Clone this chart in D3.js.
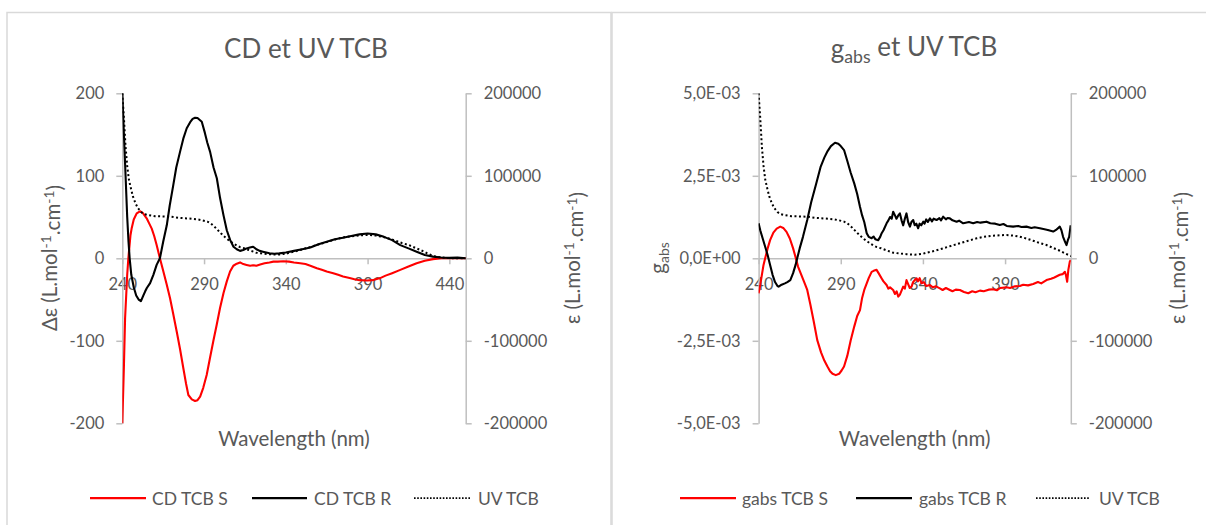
<!DOCTYPE html>
<html><head><meta charset="utf-8">
<script src="https://cdn.jsdelivr.net/npm/d3@7/dist/d3.min.js"></script>
<style>
body{margin:0;background:#fff}
svg{display:block}
text{font-family:Lato,"Open Sans",sans-serif;fill:#595959}
</style>
</head><body>
<svg id="c" width="1206" height="525"></svg>
<script>
// ---------- tick values and labels ----------
const wlTicksCD = [240, 290, 340, 390, 440];
const wlTicksG = [240, 290, 340, 390];
const cdTicks = [-200, -100, 0, 100, 200];
const cdTickLabels = ["-200", "-100", "0", "100", "200"];
const gTicks = [-5e-3, -2.5e-3, 0, 2.5e-3, 5e-3];
const gTickLabels = ["-5,0E-03", "-2,5E-03", "0,0E+00", "2,5E-03", "5,0E-03"];
const epsTicks = [-200000, -100000, 0, 100000, 200000];
const epsTickLabels = ["-200000", "-100000", "0", "100000", "200000"];

// ---------- series: [wavelength nm, value] ----------
const cdTCB_S = [[240,-200],[241,-130],[241.7,-73],[243,-20],[243.7,0],[245,28],[245.7,36],[247,47],[248.8,54.5],[250.8,57],[252.5,55],[254.9,48.5],[256.5,42],[258,36],[259.5,27],[261,16],[263,0],[265,-15],[267.2,-32],[269.2,-48.5],[271,-66],[273.3,-89],[275.3,-110],[277.3,-133],[279,-152],[280.4,-165.7],[282.5,-171],[284.5,-173],[286,-172],[287.6,-167.7],[289.5,-157],[291.6,-141.5],[293.5,-122],[295.7,-100],[297.8,-80],[299.8,-60],[301.9,-42],[303.9,-28],[305.9,-16],[307.9,-9],[310,-6.5],[312,-5],[314,-7],[316,-8],[318.2,-9],[320,-8.5],[322,-9],[324.3,-7.5],[327,-6],[330,-5],[332.4,-4],[335,-4],[338.5,-3.5],[342,-4],[345,-5],[348.8,-6],[352,-7],[355,-9],[359,-12],[362,-14],[365,-16],[369,-18],[372,-20],[375,-22],[379,-24],[382,-25.5],[385,-26.5],[389.6,-27],[393,-26.5],[397.7,-24],[401,-21],[405,-18],[410,-14],[415,-10],[420,-6],[425,-3],[430,-1],[435,0],[440,0],[445,0.3],[450,0]];

const cdTCB_R = [[240,200],[241,150],[242,100],[243,50],[243.8,20],[244.5,0],[245.5,-20],[247,-35],[248.5,-45],[250,-50],[251.4,-52],[252.9,-45],[254,-40],[255,-36],[257,-30],[259,-20],[261,-8],[263,0],[265,20],[267.2,40],[269,64],[271.2,89],[273,110],[275.3,129],[277.3,145],[279.4,157.6],[281.5,165],[283,169],[284.5,170.4],[286,170],[288.6,165.6],[290.5,152],[292,140],[293.7,129],[295.8,110],[297.8,97],[299.8,73],[301.9,52],[303.9,34],[306,22],[308,14],[310,11],[312,9],[314,10],[316,12],[318,13],[320,14],[322,11],[324,9],[326,8],[328,7],[330,6],[333,5.5],[336,6],[340,7],[345,9],[350,11],[355,13],[360,17],[365,20],[370,23],[375,25],[380,27],[385,29],[390,30],[395,29],[400,26],[405,22],[410,16],[415,12],[420,8],[425,4],[430,2],[435,1],[440,0.5],[445,0.8],[450,0]];

const uvTCB = [[240,200000],[241,170000],[242,135000],[243,112000],[244,96000],[245,86800],[246.5,75000],[248,67000],[249.5,61000],[251.5,56000],[253.5,53500],[255.3,52500],[260,51000],[265,50800],[269.6,50400],[275,49000],[280,48300],[285.9,47200],[289,46000],[292,44500],[294,42400],[296,39000],[298,35000],[300.3,30300],[302,27000],[304,23500],[306.4,20100],[308,17800],[310,15500],[312,13500],[314.5,12100],[318,9500],[321.9,6800],[325,6000],[330,5000],[335,4400],[340,5500],[342.2,6800],[346,8500],[352.3,12100],[357,15000],[362.5,18200],[367,21000],[372.7,24200],[377,26000],[382.8,27400],[387,28000],[390.9,28200],[395,27500],[399,26200],[403,24000],[407.1,21300],[411,18500],[415.2,16100],[419,12800],[423.3,9200],[427,5500],[430,2800],[434,1200],[438,500],[442,200],[450,0]];

const gabsTCB_S = [[240,-1.06e-3],[241,-0.8e-3],[242,-0.5e-3],[243,-0.2e-3],[244,0],[245.5,0.3e-3],[247,0.55e-3],[249,0.78e-3],[251,0.9e-3],[253.2,0.96e-3],[255,0.92e-3],[257,0.8e-3],[259,0.6e-3],[261,0.3e-3],[262.4,0.05e-3],[264,-0.25e-3],[266,-0.5e-3],[268,-0.75e-3],[269.6,-0.96e-3],[271.5,-1.4e-3],[273.5,-1.9e-3],[275.7,-2.48e-3],[278,-2.85e-3],[280,-3.1e-3],[281.9,-3.28e-3],[283.5,-3.42e-3],[285,-3.5e-3],[287,-3.54e-3],[289,-3.5e-3],[290.5,-3.4e-3],[292,-3.28e-3],[294,-2.95e-3],[296,-2.5e-3],[298.2,-2.07e-3],[300,-1.75e-3],[301.7,-1.57e-3],[303,-1.2e-3],[304.3,-0.96e-3],[305.8,-0.76e-3],[307,-0.6e-3],[308.8,-0.41e-3],[310,-0.38e-3],[311.8,-0.35e-3],[313,-0.45e-3],[314.9,-0.61e-3],[316,-0.7e-3],[317.9,-0.81e-3],[319,-0.92e-3],[320,-0.88e-3],[321.9,-0.96e-3],[323,-1.08e-3],[324,-1.0e-3],[325,-1.16e-3],[326,-1.1e-3],[327,-0.98e-3],[328,-0.86e-3],[329,-0.92e-3],[330,-0.66e-3],[331,-0.78e-3],[332,-0.9e-3],[333.1,-0.86e-3],[334,-0.72e-3],[335,-0.66e-3],[336.2,-0.61e-3],[337,-0.7e-3],[338,-0.6e-3],[339.2,-0.76e-3],[340.5,-0.72e-3],[342,-0.84e-3],[344.3,-0.81e-3],[346,-0.88e-3],[348,-0.85e-3],[350.3,-0.91e-3],[352,-0.96e-3],[354,-0.9e-3],[356.4,-0.96e-3],[358,-1.0e-3],[360,-0.95e-3],[362.5,-0.96e-3],[365,-1.02e-3],[367.6,-1.06e-3],[370,-1.0e-3],[372,-1.03e-3],[374.7,-0.98e-3],[377,-1.0e-3],[380,-0.95e-3],[382.8,-0.94e-3],[385,-0.97e-3],[387,-0.9e-3],[390.9,-0.88e-3],[393,-0.9e-3],[396,-0.85e-3],[399,-0.84e-3],[401,-0.8e-3],[404,-0.82e-3],[407.1,-0.78e-3],[410,-0.72e-3],[412,-0.76e-3],[415.2,-0.66e-3],[418,-0.62e-3],[420,-0.58e-3],[423.3,-0.5e-3],[425,-0.48e-3],[426.4,-0.41e-3],[427,-0.5e-3],[427.8,-0.71e-3],[428.5,-0.35e-3],[429.4,-0.1e-3],[430,-0.05e-3]];

const gabsTCB_R = [[240,1.06e-3],[241,0.85e-3],[242.5,0.6e-3],[244,0.35e-3],[245.5,0.1e-3],[247,-0.2e-3],[248.5,-0.5e-3],[250,-0.72e-3],[251.5,-0.84e-3],[252.2,-0.86e-3],[254,-0.8e-3],[256,-0.76e-3],[257.5,-0.72e-3],[259.3,-0.66e-3],[261,-0.45e-3],[262.5,-0.2e-3],[263.5,0],[265,0.3e-3],[267,0.65e-3],[269.6,1.16e-3],[272,1.7e-3],[275,2.25e-3],[277.8,2.78e-3],[280,3.05e-3],[282,3.25e-3],[284,3.4e-3],[286.5,3.5e-3],[288.5,3.47e-3],[290,3.4e-3],[292,3.28e-3],[294,2.95e-3],[296,2.6e-3],[298.2,2.27e-3],[300,1.95e-3],[301.7,1.56e-3],[303,1.3e-3],[304.3,1.1e-3],[305.8,0.76e-3],[307,0.65e-3],[308.8,0.61e-3],[310,0.66e-3],[311,0.58e-3],[312.8,0.55e-3],[314,0.65e-3],[314.9,0.76e-3],[316,0.85e-3],[317.9,1.06e-3],[319,1.15e-3],[320,1.25e-3],[321,1.2e-3],[321.9,1.41e-3],[323,1.3e-3],[323.9,1.2e-3],[325,1.3e-3],[326,1.36e-3],[327,1.15e-3],[328,1.0e-3],[329,1.2e-3],[330,1.36e-3],[331,1.1e-3],[332.1,0.96e-3],[333,1.1e-3],[334.1,1.16e-3],[335,1.0e-3],[336,1.05e-3],[337.1,0.91e-3],[338,1.05e-3],[339,1.0e-3],[340.2,1.11e-3],[341,1.05e-3],[342,1.18e-3],[343,1.1e-3],[344.3,1.21e-3],[345.5,1.12e-3],[346.5,1.2e-3],[348.3,1.16e-3],[350,1.22e-3],[351,1.15e-3],[352.3,1.26e-3],[354,1.18e-3],[355,1.22e-3],[356.4,1.21e-3],[358,1.15e-3],[360.5,1.11e-3],[362,1.14e-3],[364.5,1.06e-3],[366,1.08e-3],[368,1.1e-3],[370.6,1.06e-3],[373,1.1e-3],[375,1.08e-3],[378.7,1.11e-3],[381,1.06e-3],[384,1.05e-3],[386.8,1.01e-3],[389,1.04e-3],[391,0.98e-3],[394.9,0.96e-3],[398,0.98e-3],[400,0.95e-3],[403,0.96e-3],[406,0.92e-3],[408,0.94e-3],[411.2,0.91e-3],[414,0.88e-3],[416,0.86e-3],[419.3,0.81e-3],[421,0.86e-3],[423.3,0.96e-3],[424.3,0.85e-3],[425.3,0.65e-3],[426.5,0.5e-3],[427.4,0.4e-3],[428.2,0.55e-3],[429,0.65e-3],[429.9,1.0e-3]];

// ---------- drawing ----------
const svg = d3.select("#c");
svg.append("rect").attr("width",1206).attr("height",525).attr("fill","#fff");
const BORDER = "#d9d9d9", AXIS = "#bfbfbf";
svg.append("rect").attr("x",7).attr("y",12.5).attr("width",604).attr("height",540)
  .attr("fill","none").attr("stroke",BORDER).attr("stroke-width",1.5);
svg.append("rect").attr("x",612).attr("y",12.5).attr("width",640).attr("height",540)
  .attr("fill","none").attr("stroke",BORDER).attr("stroke-width",1.5);

function supText(sel, parts){
  let shift = 0;
  parts.forEach(([t, m]) => {
    const ts = sel.append("tspan").text(t);
    let target = m === 1 ? -0.4 : (m === -1 ? 0.3 : 0);
    ts.attr("dy", (target - shift) + "em");
    shift = target;
    if (m !== 0) ts.attr("font-size", "0.68em");
  });
}

function drawPanel(cfg){
  const g = svg.append("g");
  const x = d3.scaleLinear().domain(cfg.xDomain).range([cfg.x0, cfg.x1]);
  const y = d3.scaleLinear().domain(cfg.yDomain).range([423.3, 93.3]);
  const y2 = d3.scaleLinear().domain([-200000, 200000]).range([423.3, 93.3]);

  const ax = g.append("g").attr("transform",`translate(0,${y(0)})`)
    .call(d3.axisBottom(x).tickValues(cfg.xTicks).tickSize(6).tickSizeOuter(0).tickFormat(d3.format("d")));
  const ay = g.append("g").attr("transform",`translate(${cfg.x0},0)`)
    .call(d3.axisLeft(y).tickValues(cfg.yTicks).tickSize(6).tickSizeOuter(0).tickPadding(12)
      .tickFormat((d,i)=>cfg.yLabels[i]));
  const ay2 = g.append("g").attr("transform",`translate(${cfg.x1},0)`)
    .call(d3.axisRight(y2).tickValues(epsTicks).tickSize(6).tickSizeOuter(0).tickPadding(12)
      .tickFormat((d,i)=>epsTickLabels[i]));
  [ax, ay, ay2].forEach(a => {
    a.select(".domain").attr("stroke",AXIS).attr("stroke-width",1.5);
    a.selectAll(".tick line").attr("stroke",AXIS).attr("stroke-width",1.5);
    a.selectAll("text").attr("fill","#595959").style("font-size","16.5px").style("font-family","Lato");
  });
  ax.selectAll(".tick text").attr("y",32).attr("dy",0);

  const cid = "clip" + cfg.id;
  svg.append("clipPath").attr("id",cid).append("rect")
    .attr("x",cfg.x0).attr("y",92).attr("width",cfg.x1-cfg.x0).attr("height",333);
  const plot = g.append("g").attr("clip-path",`url(#${cid})`);
  const line = d3.line().x(d=>x(d[0])).y(d=>y(d[1]));
  const line2 = d3.line().x(d=>x(d[0])).y(d=>y2(d[1]));
  plot.append("path").datum(cfg.sS).attr("d",line).attr("fill","none").attr("stroke","#ff0000").attr("stroke-width",2.1).attr("stroke-linejoin","round");
  plot.append("path").datum(cfg.sR).attr("d",line).attr("fill","none").attr("stroke","#000").attr("stroke-width",2.1).attr("stroke-linejoin","round");
  plot.append("path").datum(uvTCB).attr("d",line2).attr("fill","none").attr("stroke","#000").attr("stroke-width",2).attr("stroke-dasharray","2,2.5");

  const t = g.append("text").attr("x",cfg.titleX).attr("y",58).attr("text-anchor","middle").style("font-size","26px");
  supText(t, cfg.titleParts);
  g.append("text").attr("x",(cfg.x0+cfg.x1)/2).attr("y",446).attr("text-anchor","middle").style("font-size","20.5px").text("Wavelength (nm)");
  const lt = g.append("text").attr("transform",`translate(${cfg.yTitleX},258) rotate(-90)`).attr("text-anchor","middle").style("font-size","20.5px");
  supText(lt, cfg.yTitleParts);
  const rt = g.append("text").attr("transform",`translate(${cfg.y2TitleX},258) rotate(-90)`).attr("text-anchor","middle").style("font-size","20.5px");
  supText(rt, [["ε (L.mol",0],["-1",1],[".cm",0],["-1",1],[")",0]]);

  const leg = g.append("g");
  cfg.legend.forEach(item => {
    const l = leg.append("line").attr("x1",item.x1).attr("x2",item.x2).attr("y1",498).attr("y2",498)
      .attr("stroke",item.color).attr("stroke-width",item.dash?1.75:2.25);
    if (item.dash) l.attr("stroke-dasharray","1.6,1.6");
    leg.append("text").attr("x",item.tx).attr("y",504.5).style("font-size","17.5px").text(item.label);
  });
}

drawPanel({
  id:"L", x0:122.3, x1:465.7, xDomain:[240,450], xTicks:wlTicksCD,
  yDomain:[-200,200], yTicks:cdTicks, yLabels:cdTickLabels,
  sS:cdTCB_S, sR:cdTCB_R,
  titleX:306, titleParts:[["CD et UV TCB",0]],
  yTitleX:57, yTitleParts:[["Δε (L.mol",0],["-1",1],[".cm",0],["-1",1],[")",0]],
  y2TitleX:580,
  legend:[
    {x1:90,x2:146,tx:152,color:"#ff0000",label:"CD TCB S"},
    {x1:252,x2:307,tx:314,color:"#000",label:"CD TCB R"},
    {x1:414,x2:471,tx:478,color:"#000",dash:true,label:"UV TCB"}
  ]
});
drawPanel({
  id:"R", x0:758.6, x1:1070.8, xDomain:[240,430], xTicks:wlTicksG,
  yDomain:[-5e-3,5e-3], yTicks:gTicks, yLabels:gTickLabels,
  sS:gabsTCB_S, sR:gabsTCB_R,
  titleX:914, titleParts:[["g",0],["abs",-1],[" et UV TCB",0]],
  yTitleX:665, yTitleParts:[["g",0],["abs",-1]],
  y2TitleX:1185,
  legend:[
    {x1:680,x2:736,tx:742,color:"#ff0000",label:"gabs TCB S"},
    {x1:856,x2:912,tx:919,color:"#000",label:"gabs TCB R"},
    {x1:1036,x2:1089,tx:1099,color:"#000",dash:true,label:"UV TCB"}
  ]
});
</script>
</body></html>
